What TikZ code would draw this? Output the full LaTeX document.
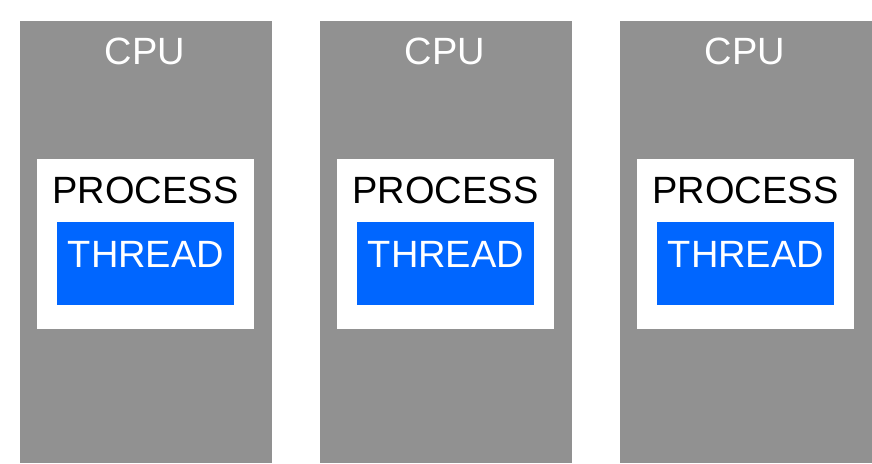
\documentclass[tikz,border=0pt]{standalone}
\usepackage{fontspec}
\setmainfont{Liberation Sans}
\definecolor{cpugray}{HTML}{919191}
\definecolor{threadblue}{HTML}{0066FF}
\begin{document}
\begin{tikzpicture}[x=1pt,y=-1pt,
  cpubox/.style={fill=cpugray, inner sep=0pt, minimum width=252pt, minimum height=442pt},
  procbox/.style={fill=white, inner sep=0pt, minimum width=217pt, minimum height=170pt},
  threadbox/.style={fill=threadblue, inner sep=0pt, minimum width=177pt, minimum height=83pt},
  lbl/.style={anchor=base, inner sep=0pt, font=\fontsize{38}{40}\selectfont}]
\useasboundingbox (0,0) rectangle (872,463);
\foreach \i/\dx in {1/0,2/300,3/600} {
  \node[cpubox] (cpu\i) at (146+\dx,242) {};
  \node[procbox] (proc\i) at (145.5+\dx,244) {};
  \node[threadbox] (thread\i) at (145.5+\dx,263.5) {};
  \node[lbl, white] (cpulabel\i) at (145+\dx,64) {CPU};
  \node[lbl, black] (proclabel\i) at (145.5+\dx,203) {PROCESS};
  \node[lbl, white] (threadlabel\i) at (146+\dx,267) {THREAD};
}
\end{tikzpicture}
\end{document}
